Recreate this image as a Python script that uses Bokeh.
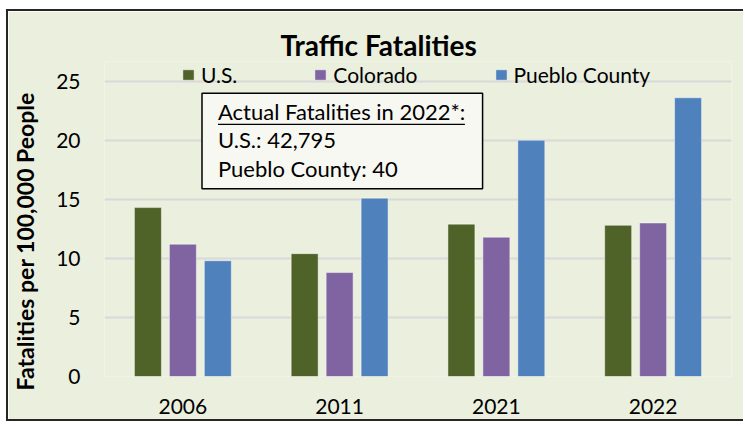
from bokeh.plotting import figure
from bokeh.models import (FactorRange, Range1d, Legend, LegendItem, Label, Title,
                          BoxAnnotation, ColumnDataSource, FixedTicker)
from bokeh.transform import dodge
from bokeh.embed import file_html
from bokeh.resources import INLINE

# ---- data ----
years = ["2006", "2011", "2021", "2022"]
us = [14.3, 10.4, 12.9, 12.8]
colorado = [11.2, 8.8, 11.8, 13.0]
pueblo = [9.8, 15.1, 20.0, 23.6]
series_names = ["U.S.", "Colorado", "Pueblo County"]
y_ticks = [0, 5, 10, 15, 20, 25]
title_text = "Traffic Fatalities"
y_label = "Fatalities per 100,000 People"
note_lines = ["Actual Fatalities in 2022*:", "U.S.: 42,795", "Pueblo County: 40"]

# ---- style ----
colors = ["#4F6228", "#8064A2", "#4F81BD"]
BG = "#EBEFDE"
FONT = "Lato"
BORDER = "2px solid #262626"

source = ColumnDataSource(dict(years=years, us=us, colorado=colorado, pueblo=pueblo))

p = figure(width=737, height=412, title=None,
           x_range=FactorRange(*years), y_range=Range1d(0, 26.67),
           output_backend="svg", toolbar_location=None,
           min_border_left=95, min_border_right=14,
           min_border_top=50, min_border_bottom=47,
           background_fill_color=BG, border_fill_color=BG,
           outline_line_color=None, margin=(9, 0, 0, 6))
p.styles = {"border-top": BORDER, "border-left": BORDER, "border-bottom": BORDER}

cols = ["us", "colorado", "pueblo"]
offsets = [-0.223, 0.0, 0.223]
renderers = []
for col, off, c in zip(cols, offsets, colors):
    r = p.vbar(x=dodge("years", off, range=p.x_range), top=col, width=0.172,
               source=source, fill_color=c, line_color="white", line_alpha=0.45,
               line_width=1)
    renderers.append(r)

# axes & grid
p.xgrid.grid_line_color = None
p.ygrid.grid_line_color = "#D9D9D9"
p.ygrid.grid_line_width = 2
p.yaxis.ticker = FixedTicker(ticks=y_ticks)
for ax in (p.xaxis[0], p.yaxis[0]):
    ax.axis_line_color = None
    ax.major_tick_line_color = None
    ax.minor_tick_line_color = None
    ax.major_tick_out = 0
    ax.major_tick_in = 0
    ax.major_label_text_font = FONT
    ax.major_label_text_font_size = "21px"
    ax.major_label_text_color = "#000000"
p.xaxis.major_label_standoff = 22
p.yaxis.major_label_standoff = 24
# trailing no-break spaces shift the centred label down to where the reference has it
p.yaxis.axis_label = y_label + "\u00a0" * 8
p.yaxis.axis_label_text_font = FONT
p.yaxis.axis_label_text_font_style = "bold"
p.yaxis.axis_label_text_font_size = "23px"
p.yaxis.axis_label_text_color = "#000000"
p.yaxis.axis_label_standoff = 14

# legend (inside the frame, above the 25 gridline)
legend = Legend(items=[LegendItem(label=n, renderers=[r]) for n, r in zip(series_names, renderers)],
                orientation="horizontal", location=(77, 289),
                glyph_width=14, glyph_height=13, label_standoff=6, spacing=76,
                padding=0, margin=0, border_line_color=None, background_fill_alpha=0,
                label_text_font=FONT, label_text_font_size="21px", label_text_color="#000000")
p.add_layout(legend, "center")

# title
p.add_layout(Title(text=title_text, align="left", offset=176, standoff=0,
                   text_font=FONT, text_font_style="bold", text_font_size="28px",
                   text_color="#000000"), "above")

# note box
p.add_layout(BoxAnnotation(left=0.622, right=2.412, bottom=15.89, top=23.99,
                           fill_color="#F7F8F2", fill_alpha=1,
                           line_color="#000000", line_alpha=1, line_width=1.5,
                           level="annotation"))
for txt, yv in zip(note_lines, [22.44, 20.04, 17.58]):
    p.add_layout(Label(x=0.724, y=yv, text=txt, text_align="left",
                       text_baseline="alphabetic", text_font=FONT,
                       text_font_size="22px", text_color="#000000"))
p.add_layout(BoxAnnotation(left=0.724, right=2.299, bottom=21.30, top=21.40,
                           fill_color="#000000", fill_alpha=1, line_color=None))

open("out.html", "w").write(file_html(p, INLINE))
